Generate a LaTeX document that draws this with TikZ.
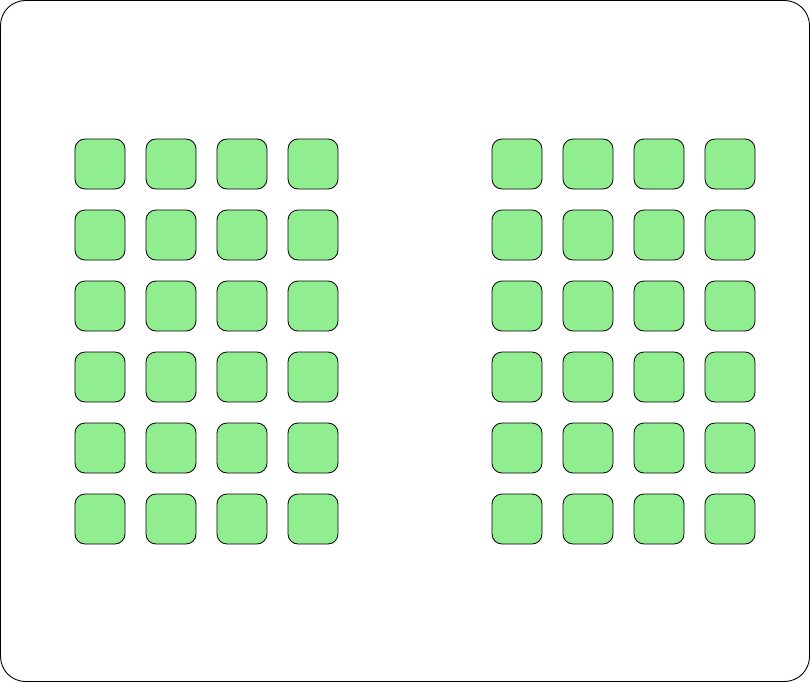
\documentclass[tikz,border=0pt]{standalone}
\definecolor{seatgreen}{HTML}{90EE90}
\tikzset{
  seat/.style={draw=black, fill=seatgreen, rounded corners=10pt, minimum width=50pt, minimum height=50pt, inner sep=0pt, line width=0.8pt},
  frame/.style={draw=black, rounded corners=25pt, line width=0.9pt}
}
\begin{document}
\begin{tikzpicture}[x=1pt,y=-1pt]
\useasboundingbox (0,0) rectangle (810,682);
\draw[frame] (0.5,0.5) rectangle (809.5,681.5);
\foreach \c [count=\i] in {100,171,242,313} {
  \foreach \r [count=\j] in {164,235,306,377,448,519} {
    \node[seat] (L\i-\j) at (\c,\r) {};
  }
}
\foreach \c [count=\i] in {517,588,659,730} {
  \foreach \r [count=\j] in {164,235,306,377,448,519} {
    \node[seat] (R\i-\j) at (\c,\r) {};
  }
}
\end{tikzpicture}
\end{document}
